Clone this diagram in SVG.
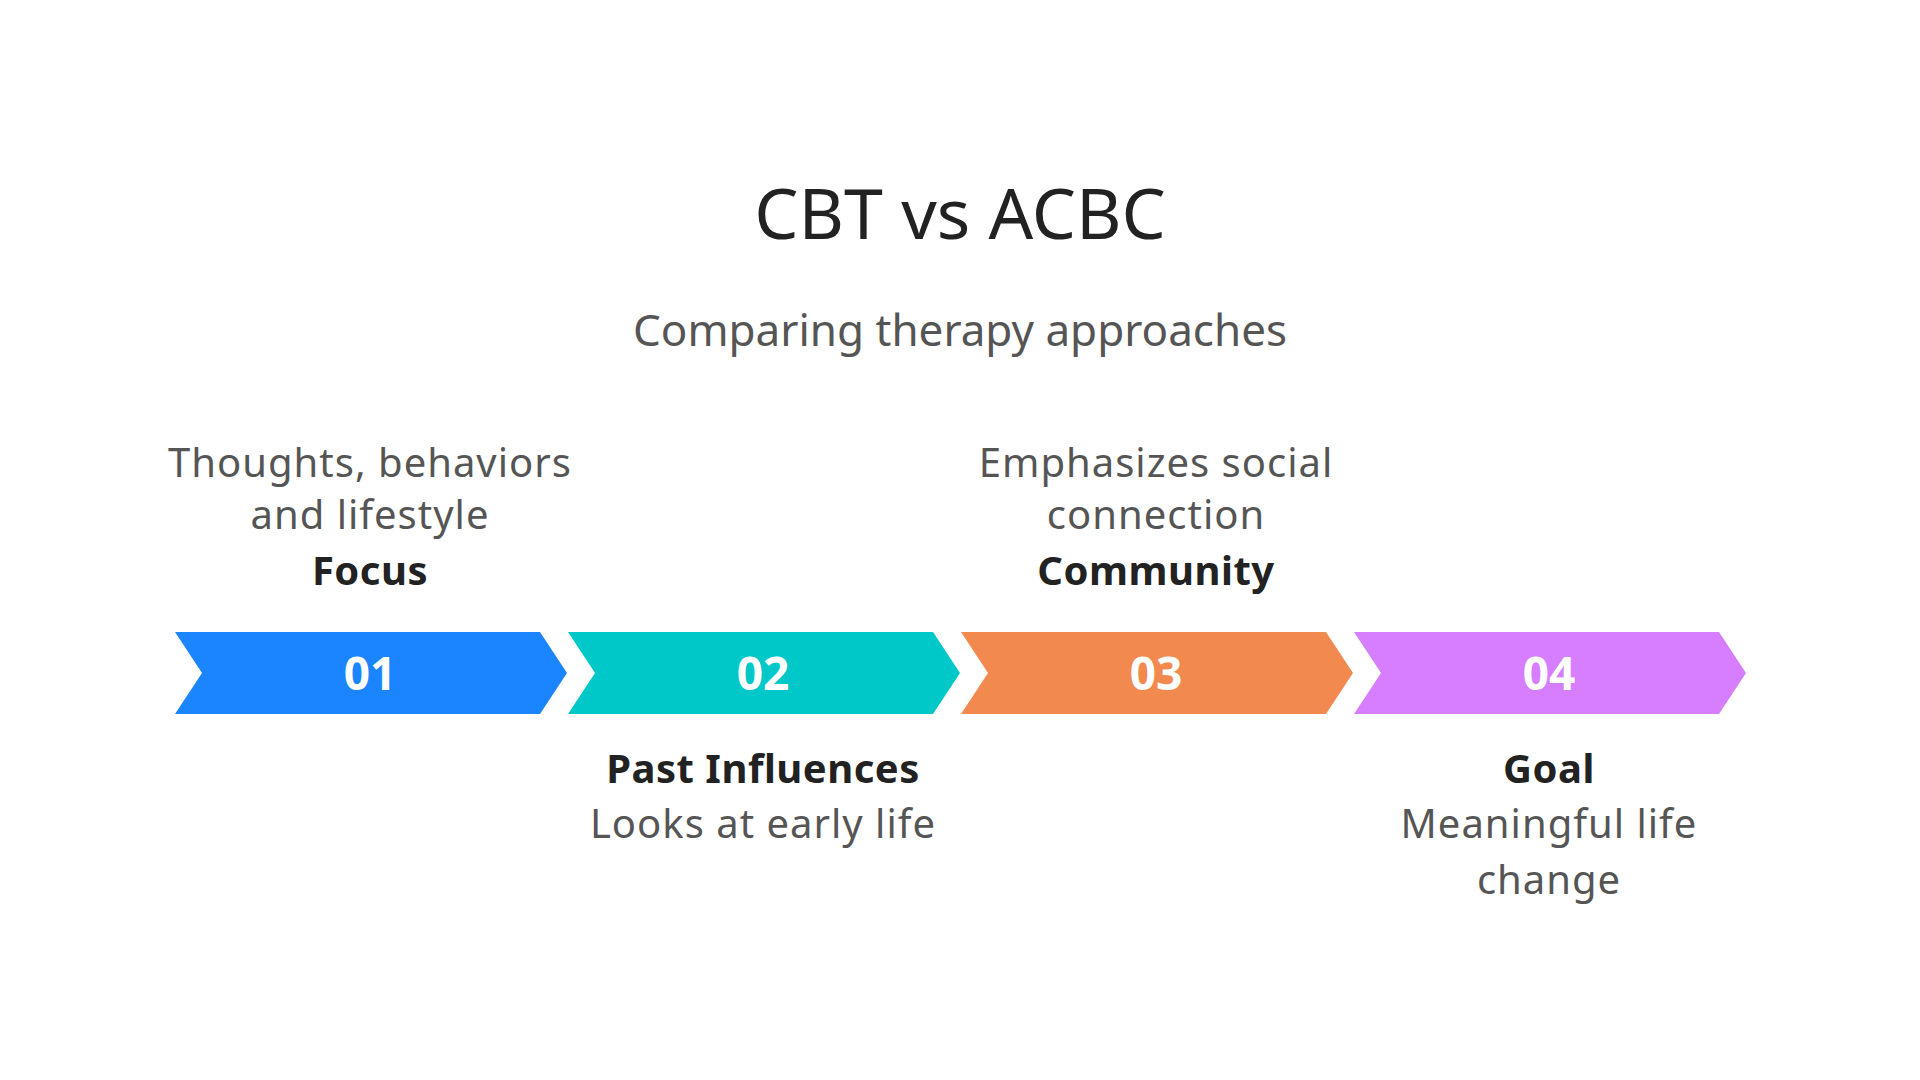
<svg xmlns="http://www.w3.org/2000/svg" width="1920" height="1080" viewBox="0 0 1920 1080">
<style>
text{font-family:"Noto Sans","Open Sans",sans-serif;text-anchor:middle}
.t{font-size:70px;fill:#222}
.s{font-size:44px;fill:#555}
.d{font-size:40px;fill:#555;letter-spacing:1px}
.l{font-size:40px;fill:#222;font-weight:bold;letter-spacing:0.5px}
.n{font-size:46px;fill:#fff;font-weight:bold}
</style>
<rect width="1920" height="1080" fill="#fff"/>
<text class="t" x="960" y="239">CBT vs ACBC</text>
<text class="s" x="960" y="346">Comparing therapy approaches</text>
<g id="step1">
<polygon points="175,632 540,632 567,673 540,714 175,714 202,673" fill="#1A85FF"/>
<text class="n" x="370" y="690">01</text>
<text class="d" x="370" y="477">Thoughts, behaviors</text>
<text class="d" x="370" y="529">and lifestyle</text>
<text class="l" x="370" y="585">Focus</text>
</g>
<g id="step2">
<polygon points="568,632 933,632 960,673 933,714 568,714 595,673" fill="#00C8C8"/>
<text class="n" x="763" y="690">02</text>
<text class="l" x="763" y="783">Past Influences</text>
<text class="d" x="763" y="838">Looks at early life</text>
</g>
<g id="step3">
<polygon points="961,632 1326,632 1353,673 1326,714 961,714 988,673" fill="#F2894E"/>
<text class="n" x="1156" y="690">03</text>
<text class="d" x="1156" y="477">Emphasizes social</text>
<text class="d" x="1156" y="529">connection</text>
<text class="l" x="1156" y="585">Community</text>
</g>
<g id="step4">
<polygon points="1354,632 1719,632 1746,673 1719,714 1354,714 1381,673" fill="#D67EFF"/>
<text class="n" x="1549" y="690">04</text>
<text class="l" x="1549" y="783">Goal</text>
<text class="d" x="1549" y="838">Meaningful life</text>
<text class="d" x="1549" y="894">change</text>
</g>
<g id="connectors"/>
</svg>
